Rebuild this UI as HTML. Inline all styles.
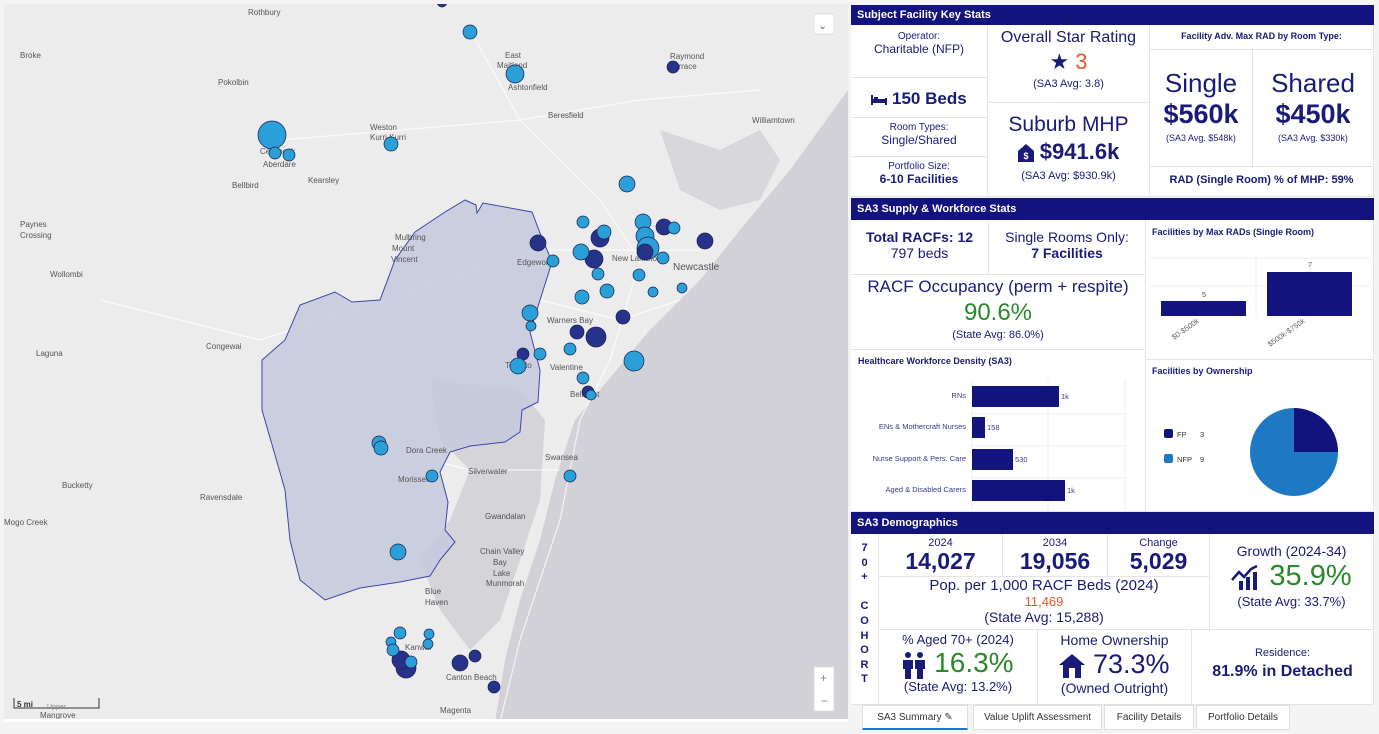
<!DOCTYPE html>
<html><head><meta charset="utf-8"><style>
*{margin:0;padding:0;box-sizing:border-box}
body{width:1379px;height:734px;overflow:hidden;background:#fff;font-family:"Liberation Sans",sans-serif;color:#1a1a78;position:relative}
.a{position:absolute}
.c{position:absolute;text-align:center;border-right:1px solid #e4e4e4;border-bottom:1px solid #e4e4e4;background:#fff}
.h{position:absolute;left:851px;width:523px;background:#13137e;color:#fff;font-weight:bold;font-size:11px;padding:4px 6px}
.sm{font-size:10px}
.g{color:#2a8a2a}
.o{color:#e8562a}
.tab{position:absolute;top:705px;height:25px;border:1px solid #ddd;font-size:10px;color:#333;text-align:center;line-height:24px;background:#fff}
.ic{display:inline-block;vertical-align:middle}
</style></head><body>
<div class="a" style="left:0;top:0;width:849px;height:734px;background:#f3f3f3"></div>
<svg class="a" style="left:4px;top:4px" width="844" height="718" viewBox="4 4 844 718">
<rect x="4" y="4" width="844" height="718" fill="#ececec"/>
<polygon points="848,4 848,722 495,722 505,660 520,600 540,540 555,480 575,420 600,390 650,330 700,280 740,230 790,170 848,90" fill="#d1d1d7"/>
<polygon points="430,380 520,390 545,420 540,500 520,560 500,620 470,650 440,610 420,560 450,520 470,470 440,440" fill="#d4d4d9"/>
<polygon points="660,130 720,150 760,130 780,160 760,200 720,210 680,190" fill="#d7d7dc"/>
<g stroke="#fff" stroke-width="1.2" fill="none" opacity=".75">
<path d="M470 30 L520 120 L600 200 L640 260 L610 360 L580 420 L560 520 L520 640 L500 722"/>
<path d="M280 140 L400 130 L520 120 L640 100 L760 90"/>
<path d="M100 300 L260 340 L380 300 L540 250 L700 250"/>
<path d="M540 300 L620 320 L680 300"/>
<path d="M390 450 L470 470 L560 470"/>
</g>
<polygon points="465,200 476,205 477,213 483,203 532,212 540,233 552,262 540,300 530,332 540,370 538,402 522,410 520,432 505,442 470,446 450,452 440,472 448,502 445,530 455,542 440,560 430,576 400,582 360,588 325,600 300,580 290,540 285,490 275,455 262,410 262,360 285,340 300,305 335,292 352,302 380,300 395,260 415,232 445,212" fill="#c6c9dd" fill-opacity=".85" stroke="#3b48a8" stroke-width="1"/>
<g font-size="8" fill="#555" font-family="Liberation Sans">
<text x="248" y="15">Rothbury</text><text x="20" y="58">Broke</text><text x="218" y="85">Pokolbin</text>
<text x="505" y="58">East</text><text x="497" y="68">Maitland</text><text x="508" y="90">Ashtonfield</text>
<text x="548" y="118">Beresfield</text><text x="670" y="59">Raymond</text><text x="670" y="69">Terrace</text>
<text x="752" y="123">Williamtown</text><text x="370" y="130">Weston</text><text x="370" y="140">Kurri Kurri</text>
<text x="260" y="154">Cessnock</text><text x="263" y="167">Aberdare</text><text x="308" y="183">Kearsley</text>
<text x="232" y="188">Bellbird</text><text x="20" y="227">Paynes</text><text x="20" y="238">Crossing</text>
<text x="50" y="277">Wollombi</text><text x="395" y="240">Mulbring</text><text x="392" y="251">Mount</text><text x="391" y="262">Vincent</text>
<text x="517" y="265">Edgeworth</text><text x="612" y="261">New Lambton</text><text x="673" y="270" font-size="10">Newcastle</text>
<text x="36" y="356">Laguna</text><text x="206" y="349">Congewai</text><text x="547" y="323">Warners Bay</text>
<text x="505" y="368">Toronto</text><text x="550" y="370">Valentine</text><text x="570" y="397">Belmont</text>
<text x="406" y="453">Dora Creek</text><text x="468" y="474">Silverwater</text><text x="545" y="460">Swansea</text>
<text x="398" y="482">Morisset</text><text x="62" y="488">Bucketty</text><text x="200" y="500">Ravensdale</text>
<text x="4" y="525">Mogo Creek</text><text x="485" y="519">Gwandalan</text><text x="480" y="554">Chain Valley</text>
<text x="493" y="565">Bay</text><text x="493" y="576">Lake</text><text x="486" y="586">Munmorah</text>
<text x="425" y="594">Blue</text><text x="425" y="605">Haven</text><text x="405" y="650">Kanwal</text>
<text x="446" y="680">Canton Beach</text><text x="440" y="713">Magenta</text><text x="40" y="718">Mangrove</text>
</g>
<g stroke="#1b2150" stroke-width="0.7">
<g fill="#27338a">
<circle cx="442" cy="2" r="5"/><circle cx="673" cy="67" r="6"/><circle cx="538" cy="243" r="8"/><circle cx="600" cy="238" r="9"/><circle cx="664" cy="227" r="8"/><circle cx="705" cy="241" r="8"/><circle cx="594" cy="259" r="9"/><circle cx="623" cy="317" r="7"/><circle cx="577" cy="332" r="7"/><circle cx="596" cy="337" r="10"/><circle cx="523" cy="354" r="6"/><circle cx="588" cy="392" r="6"/><circle cx="475" cy="656" r="6"/><circle cx="460" cy="663" r="8"/><circle cx="494" cy="687" r="6"/><circle cx="406" cy="668" r="10"/><circle cx="401" cy="660" r="9"/>
</g>
<g fill="#2a9fd8">
<circle cx="470" cy="32" r="7"/><circle cx="515" cy="74" r="9"/><circle cx="272" cy="135" r="14"/><circle cx="275" cy="153" r="6"/><circle cx="289" cy="155" r="6"/><circle cx="391" cy="144" r="7"/><circle cx="627" cy="184" r="8"/><circle cx="583" cy="222" r="6"/><circle cx="604" cy="232" r="7"/><circle cx="643" cy="222" r="8"/><circle cx="674" cy="228" r="6"/><circle cx="645" cy="236" r="9"/><circle cx="648" cy="248" r="11"/><circle cx="581" cy="252" r="8"/><circle cx="553" cy="261" r="6"/><circle cx="663" cy="258" r="6"/><circle cx="598" cy="274" r="6"/><circle cx="639" cy="275" r="6"/><circle cx="682" cy="288" r="5"/><circle cx="582" cy="297" r="7"/><circle cx="607" cy="291" r="7"/><circle cx="653" cy="292" r="5"/><circle cx="530" cy="313" r="8"/><circle cx="531" cy="326" r="5"/><circle cx="570" cy="349" r="6"/><circle cx="540" cy="354" r="6"/><circle cx="634" cy="361" r="10"/><circle cx="518" cy="366" r="8"/><circle cx="583" cy="378" r="6"/><circle cx="591" cy="395" r="5"/><circle cx="379" cy="443" r="7"/><circle cx="381" cy="448" r="7"/><circle cx="432" cy="476" r="6"/><circle cx="570" cy="476" r="6"/><circle cx="398" cy="552" r="8"/><circle cx="400" cy="633" r="6"/><circle cx="391" cy="642" r="5"/><circle cx="429" cy="634" r="5"/><circle cx="428" cy="644" r="5"/><circle cx="393" cy="650" r="6"/><circle cx="411" cy="662" r="6"/>
</g>
<circle cx="645" cy="252" r="8" fill="#27338a"/>
</g>
<rect x="814" y="14" width="20" height="20" fill="#fff" stroke="#ddd"/><text x="818" y="29" font-size="11" fill="#666">⌄</text>
<rect x="814" y="667" width="20" height="44" fill="#fff" stroke="#ddd"/><text x="820" y="682" font-size="12" fill="#888">+</text><text x="821" y="705" font-size="12" fill="#888">−</text>
<path d="M14 698 V708 H99 V698" stroke="#333" fill="none"/><text x="17" y="707" font-size="8" font-weight="bold" fill="#333">5 mi</text><text x="47" y="709" font-size="7" fill="#888">Upper</text>
<rect x="4" y="719" width="844" height="14" fill="#fff"/>
<text x="6" y="729" font-size="7" fill="#444">Esri, HERE, Garmin, USGS | Esri, HERE</text><text x="783" y="729" font-size="7" fill="#444">Powered by Esri</text>
</svg>

<div class="a" style="left:849px;top:0;width:530px;height:734px;background:#f4f4f4"></div>
<div class="h" style="top:5px;height:20px">Subject Facility Key Stats</div>
<div class="c" style="left:851px;top:25px;width:137px;height:53px;padding-top:6px"><div class="sm">Operator:</div><div style="font-size:12px">Charitable (NFP)</div></div>
<div class="c" style="left:851px;top:78px;width:137px;height:40px;padding-top:11px;font-size:17px;font-weight:bold"><svg class="ic" width="16" height="10"><rect x="0" y="0" width="2" height="10" fill="#1a1a78"/><rect x="0" y="4" width="16" height="4" fill="#1a1a78"/><rect x="3" y="2" width="4" height="3" fill="#1a1a78"/><rect x="14" y="3" width="2" height="7" fill="#1a1a78"/></svg> 150 Beds</div>
<div class="c" style="left:851px;top:118px;width:137px;height:39px;padding-top:4px"><div class="sm">Room Types:</div><div style="font-size:12px">Single/Shared</div></div>
<div class="c" style="left:851px;top:157px;width:137px;height:40px;padding-top:4px"><div class="sm">Portfolio Size:</div><div style="font-size:12px;font-weight:bold">6-10 Facilities</div></div>
<div class="c" style="left:988px;top:25px;width:162px;height:78px;padding-top:4px"><div style="font-size:16px">Overall Star Rating</div><div style="font-size:22px;margin-top:2px">★ <span class="o">3</span></div><div style="font-size:11px;margin-top:3px">(SA3 Avg: 3.8)</div></div>
<div class="c" style="left:988px;top:103px;width:162px;height:94px;padding-top:10px"><div style="font-size:21px">Suburb MHP</div><div style="font-size:22px;font-weight:bold;margin-top:2px"><svg class="ic" width="16" height="18"><path d="M8 0 L16 7 V18 H0 V7 Z" fill="#1a1a78"/><text x="8" y="15" font-size="9" fill="#fff" text-anchor="middle" font-family="Liberation Sans">$</text></svg> $941.6k</div><div style="font-size:11px;margin-top:5px">(SA3 Avg: $930.9k)</div></div>
<div class="c" style="left:1150px;top:25px;width:224px;height:25px;padding-top:6px;font-size:9px;font-weight:bold">Facility Adv. Max RAD by Room Type:</div>
<div class="c" style="left:1150px;top:50px;width:103px;height:117px;padding-top:18px"><div style="font-size:26px">Single</div><div style="font-size:27px;font-weight:bold">$560k</div><div style="font-size:9px;margin-top:3px">(SA3 Avg. $548k)</div></div>
<div class="c" style="left:1253px;top:50px;width:121px;height:117px;padding-top:18px"><div style="font-size:26px">Shared</div><div style="font-size:27px;font-weight:bold">$450k</div><div style="font-size:9px;margin-top:3px">(SA3 Avg. $330k)</div></div>
<div class="c" style="left:1150px;top:167px;width:224px;height:30px;padding-top:7px;font-size:11px;font-weight:bold">RAD (Single Room) % of MHP: 59%</div>

<div class="h" style="top:198px;height:22px;padding-top:5px">SA3 Supply &amp; Workforce Stats</div>
<div class="c" style="left:851px;top:220px;width:138px;height:55px;padding-top:9px;font-size:14px"><div style="font-weight:bold">Total RACFs: 12</div><div>797 beds</div></div>
<div class="c" style="left:989px;top:220px;width:157px;height:55px;padding-top:9px;font-size:14px"><div>Single Rooms Only:</div><div style="font-weight:bold">7 Facilities</div></div>
<div class="c" style="left:851px;top:275px;width:295px;height:75px;padding-top:2px"><div style="font-size:17px">RACF Occupancy (perm + respite)</div><div class="g" style="font-size:24px;margin-top:2px">90.6%</div><div style="font-size:11px;margin-top:2px">(State Avg: 86.0%)</div></div>
<div class="c" style="left:851px;top:350px;width:295px;height:162px;text-align:left">
<div style="font-size:9px;font-weight:bold;margin:6px 0 0 7px">Healthcare Workforce Density (SA3)</div>
<svg class="a" style="left:0;top:0" width="295" height="162">
<g stroke="#eee"><line x1="121" y1="30" x2="121" y2="160"/><line x1="197" y1="30" x2="197" y2="160"/><line x1="274" y1="30" x2="274" y2="160"/><line x1="121" y1="64" x2="274" y2="64"/><line x1="121" y1="96" x2="274" y2="96"/><line x1="121" y1="128" x2="274" y2="128"/></g>
<g fill="#13137e"><rect x="121" y="36" width="87" height="21"/><rect x="121" y="67" width="13" height="21"/><rect x="121" y="99" width="41" height="21"/><rect x="121" y="130" width="93" height="21"/></g>
<g font-size="7.5" fill="#3a3a8a" text-anchor="end" font-family="Liberation Sans"><text x="115" y="48">RNs</text><text x="115" y="79">ENs &amp; Mothercraft Nurses</text><text x="115" y="111">Nurse Support &amp; Pers. Care</text><text x="115" y="142">Aged &amp; Disabled Carers</text></g>
<g font-size="7.5" fill="#3a3a8a" font-family="Liberation Sans"><text x="210" y="49">1k</text><text x="136" y="80">158</text><text x="164" y="112">530</text><text x="216" y="143">1k</text></g>
</svg></div>
<div class="c" style="left:1146px;top:220px;width:228px;height:140px;text-align:left">
<div style="font-size:9px;font-weight:bold;margin:7px 0 0 6px">Facilities by Max RADs (Single Room)</div>
<svg class="a" style="left:0;top:0" width="228" height="140">
<g stroke="#eee"><line x1="4" y1="38" x2="225" y2="38"/><line x1="4" y1="66" x2="225" y2="66"/><line x1="110" y1="36" x2="110" y2="96"/></g>
<g fill="#13137e"><rect x="15" y="81" width="85" height="15"/><rect x="121" y="52" width="85" height="44"/></g>
<g font-size="7.5" fill="#555" text-anchor="middle" font-family="Liberation Sans"><text x="58" y="77">5</text><text x="164" y="47">7</text></g>
<g font-size="7.5" fill="#666" font-family="Liberation Sans"><text transform="translate(28,120) rotate(-35)">$0-$500k</text><text transform="translate(124,127) rotate(-35)">$500k-$750k</text></g>
</svg></div>
<div class="c" style="left:1146px;top:360px;width:228px;height:152px;text-align:left">
<div style="font-size:9px;font-weight:bold;margin:6px 0 0 6px">Facilities by Ownership</div>
<svg class="a" style="left:0;top:0" width="228" height="152">
<rect x="18" y="69" width="9" height="9" rx="2" fill="#13137e"/><text x="31" y="77" font-size="7.5" fill="#333">FP</text><text x="54" y="77" font-size="7.5" fill="#333">3</text>
<rect x="18" y="94" width="9" height="9" rx="2" fill="#1f79c2"/><text x="31" y="102" font-size="7.5" fill="#333">NFP</text><text x="54" y="102" font-size="7.5" fill="#333">9</text>
<circle cx="148" cy="92" r="44" fill="#1f79c2"/><path d="M148 92 V48 A44 44 0 0 1 192 92 Z" fill="#13137e"/>
</svg></div>

<div class="h" style="top:512px;height:22px;padding-top:5px">SA3 Demographics</div>
<div class="c" style="left:851px;top:534px;width:28px;height:171px;padding-top:7px;font-size:11px;line-height:14.6px;font-weight:bold">7<br>0<br>+<br><br>C<br>O<br>H<br>O<br>R<br>T</div>
<div class="c" style="left:879px;top:534px;width:124px;height:43px;padding-top:3px"><div style="font-size:11px">2024</div><div style="font-size:23px;font-weight:bold;line-height:24px">14,027</div></div>
<div class="c" style="left:1003px;top:534px;width:105px;height:43px;padding-top:3px"><div style="font-size:11px">2034</div><div style="font-size:23px;font-weight:bold;line-height:24px">19,056</div></div>
<div class="c" style="left:1108px;top:534px;width:102px;height:43px;padding-top:3px"><div style="font-size:11px">Change</div><div style="font-size:23px;font-weight:bold;line-height:24px">5,029</div></div>
<div class="c" style="left:879px;top:577px;width:331px;height:53px;padding-top:0"><div style="font-size:15px">Pop. per 1,000 RACF Beds (2024)</div><div class="o" style="font-size:13px">11,469</div><div style="font-size:14px">(State Avg: 15,288)</div></div>
<div class="c" style="left:1210px;top:534px;width:164px;height:96px;padding-top:9px"><div style="font-size:14px">Growth (2024-34)</div><div style="font-size:29px;margin-top:1px"><svg class="ic" width="30" height="26"><path d="M1 16 L8 8 L13 13 L20 5 L26 2" stroke="#1a1a78" stroke-width="2.5" fill="none"/><rect x="8" y="17" width="4" height="9" fill="#1a1a78"/><rect x="15" y="13" width="4" height="13" fill="#1a1a78"/><rect x="22" y="8" width="4" height="18" fill="#1a1a78"/></svg><span class="g"> 35.9%</span></div><div style="font-size:13px;margin-top:1px">(State Avg: 33.7%)</div></div>
<div class="c" style="left:879px;top:630px;width:159px;height:75px;padding-top:2px"><div style="font-size:13px">% Aged 70+ (2024)</div><div style="font-size:28px;line-height:32px"><svg class="ic" width="24" height="28"><circle cx="6" cy="4" r="3" fill="#1a1a78"/><circle cx="18" cy="4" r="3" fill="#1a1a78"/><path d="M1 9 H11 V18 H9 V28 H3 V18 H1Z M13 9 H23 V18 H21 V28 H15 V18 H13Z" fill="#1a1a78"/></svg><span class="g"> 16.3%</span></div><div style="font-size:13px">(State Avg: 13.2%)</div></div>
<div class="c" style="left:1038px;top:630px;width:154px;height:75px;padding-top:2px"><div style="font-size:14px">Home Ownership</div><div style="font-size:27px;line-height:32px"><svg class="ic" width="26" height="24"><path d="M13 0 L26 11 H22 V24 H4 V11 H0 Z" fill="#1a1a78"/><rect x="10" y="14" width="6" height="10" fill="#fff"/></svg> 73.3%</div><div style="font-size:14px">(Owned Outright)</div></div>
<div class="c" style="left:1192px;top:630px;width:182px;height:75px;padding-top:17px"><div style="font-size:11px">Residence:</div><div style="font-size:16px;font-weight:bold;margin-top:4px">81.9% in Detached</div></div>
<div class="tab" style="left:862px;width:106px;border-bottom:2px solid #1f79c2">SA3 Summary ✎</div>
<div class="tab" style="left:973px;width:129px">Value Uplift Assessment</div>
<div class="tab" style="left:1104px;width:90px">Facility Details</div>
<div class="tab" style="left:1196px;width:94px">Portfolio Details</div>
</body></html>
